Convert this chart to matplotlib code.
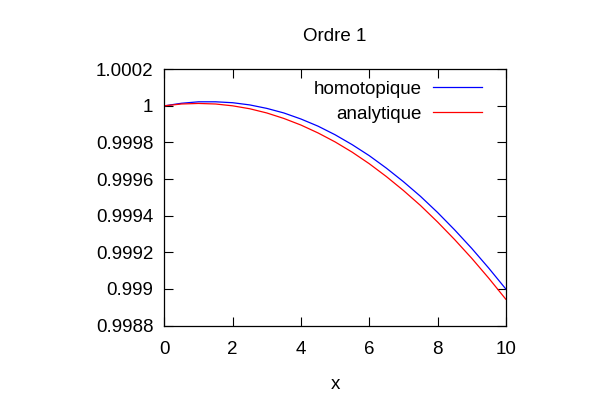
import matplotlib
matplotlib.use("Agg")
import matplotlib.pyplot as plt
import numpy as np

plt.rcParams['font.family'] = ['Liberation Sans', 'DejaVu Sans']

# valeurs (ecart a 1, en 1e-6)
x = [0, 0.5, 1, 1.5, 2, 2.5, 3, 3.5, 4, 4.5, 5, 5.5, 6, 6.5, 7, 7.5, 8, 8.5, 9, 9.5, 10]
homotopique = [0, 14, 22, 22, 17, 5, -14, -39, -72, -111, -158, -212, -272, -340, -414, -494, -582, -677, -778, -886, -1000]
analytique = [0, 10, 13, 10, 0, -16, -39, -69, -105, -148, -197, -253, -316, -386, -462, -544, -634, -730, -832, -941, -1056]

yticks = [0.9988, 0.999, 0.9992, 0.9994, 0.9996, 0.9998, 1.0, 1.0002]
xticks = [0, 2, 4, 6, 8, 10]

h = 1 + np.array(homotopique) * 1e-6
a = 1 + np.array(analytique) * 1e-6

fig = plt.figure(figsize=(6, 4), dpi=100)
ax = fig.add_axes([0.274, 0.186, 0.569, 0.641])

ax.plot(x, h, color='#0000ff', lw=0.9, label='homotopique')
ax.plot(x, a, color='#ff0000', lw=0.9, label='analytique')

ax.set_xlim(0, 10)
ax.set_ylim(0.9988, 1.0002)
ax.set_xticks(xticks)
ax.set_yticks(yticks)
ax.set_yticklabels([f"{round(v, 4):g}" for v in yticks])
ax.tick_params(direction='in', length=6.5, width=0.8, top=True, right=True,
               labelsize=13.5, pad=8)
ax.tick_params(axis='x', pad=11)
for s in ax.spines.values():
    s.set_linewidth(0.9)

ax.set_title('Ordre 1', fontsize=13.5, pad=20)
ax.set_xlabel('x', fontsize=13.5, labelpad=13)

ax.legend(loc='upper right', bbox_to_anchor=(0.952, 0.985), frameon=False,
          markerfirst=False, fontsize=13.5, handlelength=2.6,
          handletextpad=0.6, labelspacing=0.42, borderaxespad=0)

fig.savefig('out.png', dpi=100)
